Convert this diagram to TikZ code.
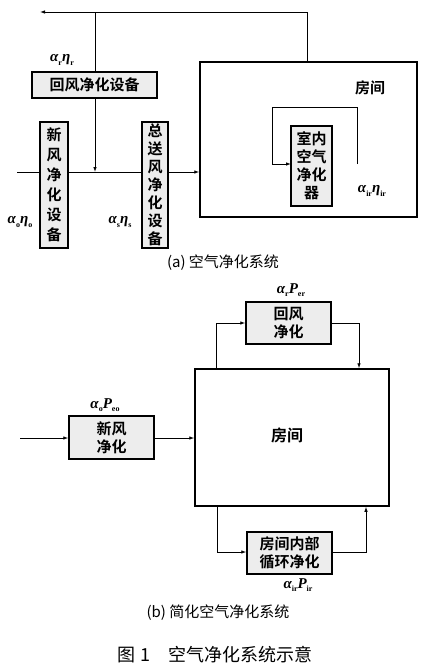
\documentclass[tikz,border=0pt]{standalone}
\usepackage{fontspec}
\newfontfamily\cjk{Noto Sans CJK SC}[BoldFont={Noto Sans CJK SC Bold}]
\newfontfamily\ser{Liberation Serif}
\newcommand\lowsub[1]{\raisebox{-0.22em}{\upshape\fontsize{8}{8}\selectfont #1}}
\usetikzlibrary{arrows.meta}
\begin{document}
\begin{tikzpicture}[x=1pt,y=-1pt,
  box/.style={draw,line width=1.5pt,fill=gray!14,inner sep=0pt,font={\cjk\bfseries\fontsize{15}{18}\selectfont},align=center},
  room/.style={draw,line width=1.5pt,inner sep=0pt},
  flow/.style={line width=0.8pt,-{Latex[length=5pt,width=3.5pt]}},
  ln/.style={line width=0.8pt},
  lab/.style={font={\ser\itshape\bfseries\fontsize{15}{16}\selectfont},inner sep=0pt},
  captxt/.style={font={\cjk\fontsize{15}{17}\selectfont},inner sep=0pt}]
\useasboundingbox (0,0) rectangle (424,666);
% ---------- (a)
\coordinate (tL) at (40,12);
\coordinate (tR) at (307,12);
\coordinate (inA) at (17,172);
\coordinate (jA) at (95,172);
\coordinate (lR1) at (357,164);
\coordinate (lR2) at (357,107);
\coordinate (lL2) at (272,107);
\coordinate (lL1) at (272,164);
\node[room,minimum width=217pt,minimum height=155pt] (roomA) at (308.5,139.5) {};
\node[font={\cjk\bfseries\fontsize{15}{17}\selectfont}] (roomAt) at (370,88) {房间};
\draw[ln] (inA) -- (jA);
\draw[flow] (jA) -- (roomA.west |- jA);
\draw[ln] (95,72) -- (95,12);
\draw[flow] (roomA.north -| tR) -- (tR) -- (tL);
\draw[flow] (95,98) -- (jA);
\draw[flow] (lR1) -- (lR2) -- (lL2) -- (lL1) -- (291,164);
\node[box,minimum width=125pt,minimum height=26pt] (retA) at (94.5,85) {回风净化设备};
\node[box,minimum width=28pt,minimum height=126pt,font={\cjk\bfseries\fontsize{15}{20}\selectfont}] (freshA) at (54,185) {新\\风\\净\\化\\设\\备};
\node[box,minimum width=26pt,minimum height=126pt,font={\cjk\bfseries\fontsize{15}{18}\selectfont}] (supA) at (155,185) {总\\送\\风\\净\\化\\设\\备};
\node[box,minimum width=41pt,minimum height=80pt,font={\cjk\bfseries\fontsize{15}{18}\selectfont}] (purA) at (311.5,166) {室内\\空气\\净化\\器};
\node[lab] (lr) at (62,60) {α\lowsub{r}η\lowsub{r}};
\node[lab] (lo) at (20,222) {α\lowsub{o}η\lowsub{o}};
\node[lab] (ls) at (120,222) {α\lowsub{s}η\lowsub{s}};
\node[lab] (lir) at (372,191) {α\lowsub{ir}η\lowsub{ir}};
\node[captxt] (capa) at (223,263) {(a) 空气净化系统};
% ---------- (b)
\coordinate (inB) at (20,438);
\coordinate (uL) at (216,323);
\coordinate (uR) at (359,323);
\coordinate (dL) at (217,552);
\coordinate (dR) at (366,552);
\node[room,minimum width=194pt,minimum height=137pt] (roomB) at (292,437.5) {};
\node[font={\cjk\bfseries\fontsize{16}{18}\selectfont}] (roomBt) at (287,435) {房间};
\node[box,minimum width=85pt,minimum height=42pt] (retB) at (288.5,323) {回风\\净化};
\node[box,minimum width=85pt,minimum height=43pt] (freshB) at (111.5,437.5) {新风\\净化};
\node[box,minimum width=85pt,minimum height=42pt] (loopB) at (289.5,553) {房间内部\\循环净化};
\draw[flow] (inB) -- (freshB.west |- inB);
\draw[flow] (freshB.east |- inB) -- (roomB.west |- inB);
\draw[flow] (roomB.north -| uL) -- (uL) -- (retB.west |- uL);
\draw[flow] (retB.east |- uR) -- (uR) -- (roomB.north -| uR);
\draw[flow] (roomB.south -| dL) -- (dL) -- (loopB.west |- dL);
\draw[flow] (loopB.east |- dR) -- (dR) -- (roomB.south -| dR);
\node[lab] (lrb) at (291,290) {α\lowsub{r}P\lowsub{er}};
\node[lab] (lob) at (105,405) {α\lowsub{o}P\lowsub{eo}};
\node[lab] (lirb) at (298,585) {α\lowsub{ir}P\lowsub{ir}};
\node[captxt] (capb) at (218,613) {(b) 简化空气净化系统};
\node[captxt,font={\cjk\fontsize{18}{20}\selectfont}] (fig) at (215,655) {图 1\quad 空气净化系统示意};
\end{tikzpicture}
\end{document}
